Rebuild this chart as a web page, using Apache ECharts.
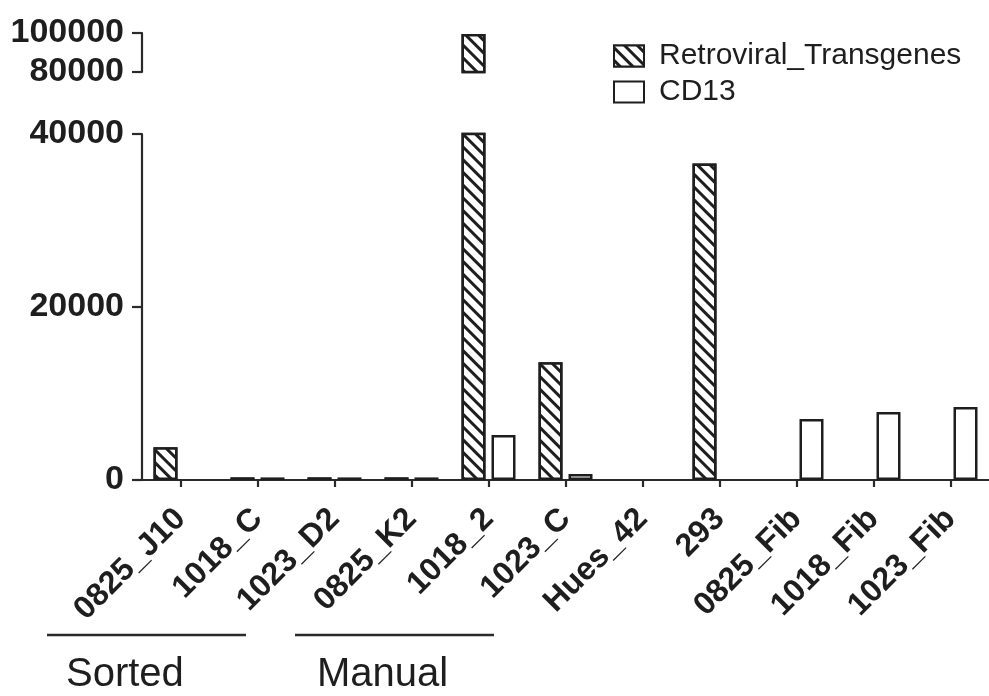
<!DOCTYPE html>
<html>
<head>
<meta charset="utf-8">
<script src="https://cdn.jsdelivr.net/npm/echarts@6/dist/echarts.min.js"></script>
<style>
html,body{margin:0;padding:0;background:#fff;}
#chart{width:989px;height:696px;}
</style>
</head>
<body>
<div id="chart"></div>
<script>
const categories = ['0825_J10','1018_C','1023_D2','0825_K2','1018_2','1023_C','Hues_42','293','0825_Fib','1018_Fib','1023_Fib'];
const retroviral = [3800, 300, 300, 300, 99500, 13600, 0, 36600, 0, 0, 0];
const cd13 = [0, 300, 300, 300, 5200, 700, 0, 0, 7050, 7850, 8450];
const lowerTicks = [0, 20000, 40000];
const upperTicks = [80000, 100000];
const groupNames = ['Sorted', 'Manual'];

const lowerMin = lowerTicks[0], lowerMax = lowerTicks[lowerTicks.length - 1];
const upperMin = upperTicks[0], upperMax = upperTicks[upperTicks.length - 1];

const FONT = 'Liberation Sans';
const INK = '#1e1e1e';
const AXIS = '#2a2a2a';

const hatch = {
  symbol: 'rect', symbolSize: 1, color: INK, backgroundColor: '#fff',
  dashArrayX: [1, 0], dashArrayY: [2.2, 6], rotation: Math.PI / 4
};
const hatchedStyle = { color: '#fff', borderColor: INK, borderWidth: 2.5, decal: hatch };
const plainStyle = { color: '#fff', borderColor: INK, borderWidth: 2.5 };

// zero values are not drawn at all in the reference
const lowerData = arr => arr.map(v => (v > 0 ? v : '-'));
const upperData = arr => arr.map(v => (v > upperMin ? v : '-'));
const plain = v => String(v);

const yAxisCommon = {
  type: 'value', interval: 20000,
  splitLine: { show: false },
  axisLine: { show: true, lineStyle: { color: AXIS, width: 2.2 } },
  axisTick: { show: true, length: 10, lineStyle: { color: AXIS, width: 2.2 } },
  axisLabel: { margin: 18, formatter: plain, fontFamily: FONT, fontWeight: 'bold', fontSize: 34, color: INK }
};

const chart = echarts.init(document.getElementById('chart'), null, { renderer: 'canvas' });
chart.setOption({
  backgroundColor: '#fff',
  animation: false,
  textStyle: { fontFamily: FONT, color: INK },
  legend: {
    orient: 'vertical', left: 608, top: 36,
    itemWidth: 30, itemHeight: 21, itemGap: 6, icon: 'rect',
    textStyle: { fontFamily: FONT, fontSize: 30, color: INK, padding: [0, 0, 0, 10] },
    data: ['Retroviral_Transgenes', 'CD13']
  },
  grid: [
    { left: 142, top: 134, width: 852, height: 346 },
    { left: 142, top: 33, width: 852, height: 39 }
  ],
  xAxis: [
    {
      type: 'category', gridIndex: 0, data: categories,
      axisLine: { lineStyle: { color: AXIS, width: 2.2 } },
      axisTick: { show: true, alignWithLabel: true, length: 7, lineStyle: { color: AXIS, width: 2.2 } },
      axisLabel: { interval: 0, rotate: 45, margin: 34, fontFamily: FONT, fontWeight: 'bold', fontSize: 32, color: INK }
    },
    {
      type: 'category', gridIndex: 1, data: categories, show: false
    }
  ],
  yAxis: [
    Object.assign({}, yAxisCommon, { gridIndex: 0, min: lowerMin, max: lowerMax }),
    Object.assign({}, yAxisCommon, { gridIndex: 1, min: upperMin, max: upperMax })
  ],
  series: [
    { name: 'Retroviral_Transgenes', type: 'bar', xAxisIndex: 0, yAxisIndex: 0, data: lowerData(retroviral),
      barWidth: 24, barGap: '25%', itemStyle: hatchedStyle },
    { name: 'CD13', type: 'bar', xAxisIndex: 0, yAxisIndex: 0, data: lowerData(cd13),
      barWidth: 24, barGap: '25%', itemStyle: plainStyle },
    { name: 'Retroviral_Transgenes', type: 'bar', xAxisIndex: 1, yAxisIndex: 1, data: upperData(retroviral),
      barWidth: 24, barGap: '25%', itemStyle: hatchedStyle },
    { name: 'CD13', type: 'bar', xAxisIndex: 1, yAxisIndex: 1, data: upperData(cd13),
      barWidth: 24, barGap: '25%', itemStyle: plainStyle }
  ],
  graphic: [
    { type: 'line', shape: { x1: 47, y1: 635, x2: 246, y2: 635 }, style: { stroke: AXIS, lineWidth: 2.5 } },
    { type: 'line', shape: { x1: 295, y1: 635, x2: 494, y2: 635 }, style: { stroke: AXIS, lineWidth: 2.5 } },
    { type: 'text', left: 66, top: 655, style: { text: groupNames[0], font: '40px "Liberation Sans"', fill: INK } },
    { type: 'text', left: 317, top: 655, style: { text: groupNames[1], font: '40px "Liberation Sans"', fill: INK } }
  ]
});
</script>
</body>
</html>
